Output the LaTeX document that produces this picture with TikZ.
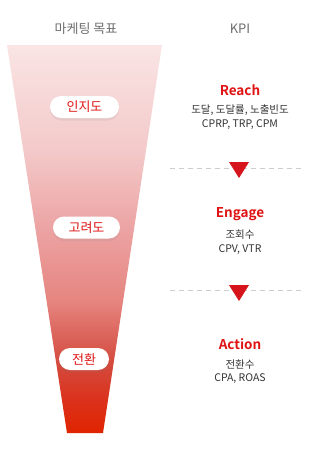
\documentclass[tikz,border=0pt]{standalone}
\usepackage{fontspec}
\setmainfont{Noto Sans CJK KR}[BoldFont={Noto Sans CJK KR Bold}]
\usetikzlibrary{shadows}
\definecolor{kred}{RGB}{224,20,20}
\definecolor{tgray}{RGB}{110,110,110}
\definecolor{sgray}{RGB}{50,50,50}
\definecolor{dgray}{RGB}{205,205,205}
\definecolor{tri}{RGB}{214,20,28}
\pgfdeclareverticalshading{funnel}{100bp}{%
  rgb(0bp)=(0.878,0.141,0.0);
  rgb(25bp)=(0.878,0.141,0.0);
  rgb(29bp)=(0.86,0.19,0.10);
  rgb(34bp)=(0.83,0.29,0.24);
  rgb(42bp)=(0.90,0.52,0.50);
  rgb(51bp)=(0.925,0.635,0.635);
  rgb(61.5bp)=(0.955,0.79,0.79);
  rgb(75bp)=(0.98,0.895,0.895);
  rgb(100bp)=(0.98,0.895,0.895)}
\tikzset{
  pill/.style={fill=white, rounded corners=11pt, minimum height=22pt, inner sep=0pt,
    text=kred, font=\fontsize{13}{15}\selectfont,
    drop shadow={opacity=0.12, shadow xshift=0pt, shadow yshift=-2.5pt}},
  head/.style={text=tgray, font=\fontsize{13}{15}\selectfont},
  kpi/.style={text=kred, font=\bfseries\fontsize{13.5}{16}\selectfont},
  sub/.style={text=sgray, align=center, font=\fontsize{10.5}{13.5}\selectfont},
  sep/.style={dgray, dashed, dash pattern=on 5pt off 4pt, line width=0.8pt},
  arrowtri/.style={fill=tri}
}
\begin{document}
\begin{tikzpicture}[x=1pt,y=-1pt]
\useasboundingbox[fill=white] (0,0) rectangle (312,451);
% funnel
\shade[shading=funnel] (7,45) -- (162,45) -- (103,433) -- (67,433) -- cycle;
% headings
\node[head] (h1) at (86,29) {마케팅 목표};
\node[head] (h2) at (240,29) {KPI};
% pills
\node[pill, minimum width=69pt] (p1) at (84.5,107) {인지도};
\node[pill, minimum width=67pt] (p2) at (86.5,227.5) {고려도};
\node[pill, minimum width=50pt] (p3) at (84,359) {전환};
% KPI blocks
\node[kpi] (k1) at (240,90) {Reach};
\node[sub] (s1) at (240,117) {도달, 도달률, 노출빈도\\CPRP, TRP, CPM};
\node[kpi] (k2) at (240,214) {Engage};
\node[sub] (s2) at (240,242) {조회수\\CPV, VTR};
\node[kpi] (k3) at (240,344) {Action};
\node[sub] (s3) at (240,371.5) {전환수\\CPA, ROAS};
% separators
\coordinate (a1) at (170,168); \coordinate (b1) at (305,168);
\coordinate (a2) at (170,290); \coordinate (b2) at (305,290);
\draw[sep] (a1) -- (b1);
\draw[sep] (a2) -- (b2);
\fill[arrowtri] (229,162) -- (249,162) -- (239,178) -- cycle;
\fill[arrowtri] (229,285) -- (249,285) -- (239,301) -- cycle;
\end{tikzpicture}
\end{document}
